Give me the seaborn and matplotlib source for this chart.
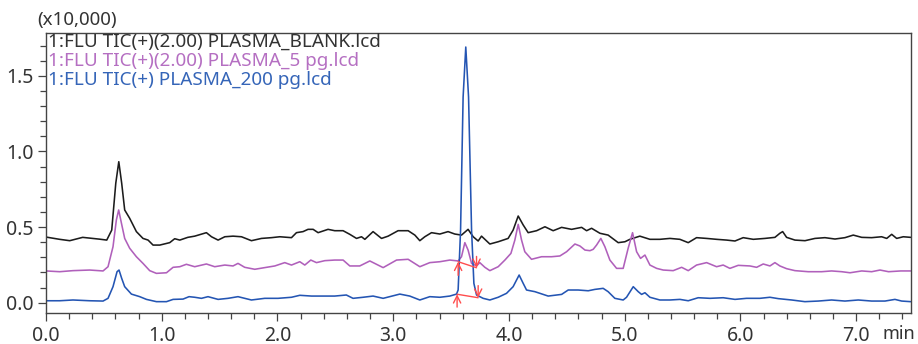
import matplotlib
matplotlib.use("Agg")
import matplotlib.pyplot as plt
import seaborn as sns
import numpy as np
from matplotlib.ticker import MultipleLocator

# ---------------- data (time in min, intensity in x10,000) ----------------
t_blank = [0.000, 0.118, 0.205, 0.317, 0.464, 0.525, 0.568, 0.603, 0.629, 0.654, 0.680, 0.723,
           0.781, 0.838, 0.882, 0.925, 0.983, 1.069, 1.112, 1.156, 1.225, 1.285, 1.386, 1.430,
           1.487, 1.545, 1.616, 1.689, 1.775, 1.862, 1.948, 2.020, 2.121, 2.164, 2.221, 2.264,
           2.308, 2.351, 2.437, 2.495, 2.567, 2.625, 2.683, 2.726, 2.755, 2.826, 2.899, 2.956,
           3.042, 3.129, 3.187, 3.230, 3.273, 3.331, 3.403, 3.474, 3.532, 3.590, 3.647, 3.691,
           3.734, 3.763, 3.835, 3.907, 3.993, 4.036, 4.080, 4.123, 4.166, 4.239, 4.311, 4.382,
           4.455, 4.541, 4.628, 4.671, 4.714, 4.786, 4.857, 4.944, 5.002, 5.045, 5.131, 5.218,
           5.304, 5.391, 5.477, 5.549, 5.621, 5.708, 5.794, 5.881, 5.953, 6.024, 6.111, 6.212,
           6.298, 6.341, 6.365, 6.399, 6.471, 6.558, 6.644, 6.730, 6.817, 6.903, 6.975, 7.048,
           7.134, 7.220, 7.264, 7.307, 7.350, 7.407, 7.471]
y_blank = [0.434, 0.419, 0.410, 0.432, 0.420, 0.414, 0.480, 0.790, 0.932, 0.790, 0.613, 0.558,
           0.470, 0.425, 0.414, 0.381, 0.381, 0.397, 0.423, 0.414, 0.432, 0.440, 0.463, 0.436,
           0.414, 0.436, 0.440, 0.436, 0.410, 0.425, 0.430, 0.436, 0.430, 0.463, 0.470, 0.485,
           0.485, 0.463, 0.485, 0.476, 0.476, 0.452, 0.425, 0.436, 0.419, 0.470, 0.425, 0.440,
           0.476, 0.476, 0.447, 0.410, 0.436, 0.463, 0.454, 0.470, 0.454, 0.447, 0.485, 0.436,
           0.408, 0.440, 0.388, 0.403, 0.425, 0.480, 0.573, 0.514, 0.463, 0.476, 0.502, 0.476,
           0.498, 0.485, 0.498, 0.476, 0.492, 0.459, 0.447, 0.397, 0.403, 0.419, 0.440, 0.419,
           0.419, 0.425, 0.419, 0.397, 0.430, 0.425, 0.419, 0.414, 0.408, 0.430, 0.419, 0.425,
           0.432, 0.459, 0.470, 0.432, 0.414, 0.410, 0.425, 0.430, 0.421, 0.430, 0.447, 0.432,
           0.430, 0.436, 0.425, 0.452, 0.425, 0.436, 0.432]

t_5pg = [0.000, 0.118, 0.233, 0.378, 0.493, 0.536, 0.579, 0.608, 0.628, 0.652, 0.680, 0.723,
         0.781, 0.838, 0.896, 0.954, 1.041, 1.098, 1.156, 1.213, 1.285, 1.386, 1.458, 1.545,
         1.616, 1.659, 1.717, 1.804, 1.890, 1.977, 2.063, 2.121, 2.193, 2.236, 2.288, 2.337,
         2.409, 2.495, 2.567, 2.625, 2.711, 2.798, 2.913, 3.029, 3.129, 3.230, 3.316, 3.403,
         3.489, 3.561, 3.590, 3.619, 3.647, 3.677, 3.720, 3.748, 3.792, 3.835, 3.907, 3.965,
         4.017, 4.051, 4.080, 4.109, 4.137, 4.195, 4.282, 4.368, 4.440, 4.498, 4.570, 4.613,
         4.657, 4.700, 4.728, 4.757, 4.794, 4.829, 4.872, 4.930, 4.987, 5.030, 5.068, 5.103,
         5.137, 5.175, 5.218, 5.276, 5.333, 5.419, 5.492, 5.549, 5.621, 5.708, 5.794, 5.851,
         5.909, 5.981, 6.082, 6.140, 6.197, 6.255, 6.298, 6.341, 6.399, 6.471, 6.586, 6.702,
         6.788, 6.875, 6.947, 7.048, 7.134, 7.206, 7.280, 7.385, 7.471]
y_5pg = [0.210, 0.205, 0.212, 0.216, 0.210, 0.238, 0.370, 0.547, 0.613, 0.525, 0.425, 0.360,
         0.304, 0.260, 0.212, 0.194, 0.198, 0.234, 0.238, 0.254, 0.238, 0.256, 0.238, 0.249,
         0.243, 0.260, 0.234, 0.221, 0.232, 0.243, 0.265, 0.249, 0.271, 0.249, 0.282, 0.265,
         0.278, 0.282, 0.282, 0.243, 0.243, 0.276, 0.232, 0.282, 0.287, 0.238, 0.265, 0.271,
         0.282, 0.276, 0.304, 0.397, 0.348, 0.260, 0.243, 0.265, 0.234, 0.212, 0.238, 0.282,
         0.326, 0.414, 0.518, 0.414, 0.337, 0.287, 0.304, 0.304, 0.309, 0.337, 0.388, 0.375,
         0.348, 0.344, 0.353, 0.381, 0.425, 0.370, 0.282, 0.227, 0.227, 0.360, 0.463, 0.337,
         0.293, 0.315, 0.249, 0.227, 0.216, 0.212, 0.234, 0.212, 0.249, 0.265, 0.238, 0.249,
         0.227, 0.247, 0.243, 0.234, 0.256, 0.243, 0.265, 0.243, 0.225, 0.212, 0.205, 0.205,
         0.210, 0.205, 0.198, 0.210, 0.205, 0.216, 0.205, 0.210, 0.210]

t_200pg = [0.000, 0.118, 0.233, 0.378, 0.493, 0.536, 0.579, 0.614, 0.631, 0.654, 0.680, 0.738,
           0.810, 0.868, 0.954, 1.041, 1.098, 1.184, 1.236, 1.285, 1.343, 1.400, 1.487, 1.573,
           1.659, 1.775, 1.890, 2.005, 2.121, 2.193, 2.294, 2.380, 2.495, 2.595, 2.653, 2.740,
           2.826, 2.913, 3.057, 3.143, 3.230, 3.316, 3.403, 3.489, 3.547, 3.561, 3.582, 3.604,
           3.627, 3.651, 3.677, 3.697, 3.720, 3.777, 3.835, 3.907, 3.979, 4.036, 4.088, 4.123,
           4.152, 4.224, 4.339, 4.455, 4.512, 4.598, 4.685, 4.742, 4.814, 4.857, 4.915, 4.987,
           5.016, 5.074, 5.117, 5.146, 5.175, 5.218, 5.304, 5.391, 5.477, 5.549, 5.635, 5.737,
           5.851, 5.953, 6.053, 6.168, 6.255, 6.327, 6.443, 6.557, 6.672, 6.788, 6.903, 7.018,
           7.134, 7.249, 7.335, 7.393, 7.471]
y_200pg = [0.013, 0.013, 0.018, 0.013, 0.011, 0.029, 0.106, 0.205, 0.216, 0.161, 0.106, 0.057,
           0.040, 0.022, 0.007, 0.007, 0.022, 0.024, 0.040, 0.036, 0.029, 0.040, 0.022, 0.029,
           0.040, 0.018, 0.029, 0.029, 0.036, 0.049, 0.044, 0.044, 0.044, 0.051, 0.029, 0.036,
           0.044, 0.029, 0.057, 0.044, 0.018, 0.040, 0.036, 0.044, 0.057, 0.084, 0.480, 1.360,
           1.690, 1.360, 0.480, 0.128, 0.051, 0.029, 0.018, 0.036, 0.062, 0.106, 0.183, 0.128,
           0.084, 0.073, 0.044, 0.055, 0.084, 0.084, 0.079, 0.088, 0.095, 0.073, 0.029, 0.018,
           0.036, 0.106, 0.073, 0.055, 0.066, 0.036, 0.018, 0.018, 0.022, 0.013, 0.033, 0.029,
           0.033, 0.022, 0.029, 0.029, 0.036, 0.027, 0.018, 0.007, 0.011, 0.018, 0.011, 0.018,
           0.011, 0.011, 0.022, 0.011, 0.007]

labels = ["1:FLU TIC(+)(2.00) PLASMA_BLANK.lcd",
          "1:FLU TIC(+)(2.00) PLASMA_5 pg.lcd",
          "1:FLU TIC(+) PLASMA_200 pg.lcd"]
line_colors = ["#1c1c1c", "#b060bb", "#2455b3"]
text_colors = ["#333333", "#b56fc2", "#3565b8"]

# peak integration marks (start/end of the 3.6 min peak): time, baseline level
base_5pg = ([3.561, 3.720], [0.271, 0.231])
base_200pg = ([3.552, 3.734], [0.056, 0.033])

x_ticks = [0.0, 1.0, 2.0, 3.0, 4.0, 5.0, 6.0, 7.0]
y_ticks = [0.0, 0.5, 1.0, 1.5]

# ---------------- figure ----------------
sns.set_style("ticks")
plt.rcParams["font.family"] = ["Noto Sans", "DejaVu Sans"]

fig = plt.figure(figsize=(9.18, 3.44), dpi=100)
ax = fig.add_axes([0.0501, 0.0901, 0.9423, 0.8154])

for t, y, c in zip([t_blank, t_5pg, t_200pg], [y_blank, y_5pg, y_200pg], line_colors):
    sns.lineplot(x=t, y=y, ax=ax, color=c, linewidth=1.15, estimator=None, sort=False)

red = "#ff4d4d"
for (bt, bv), up_len, dn_len in [(base_5pg, 0.09, 0.075), (base_200pg, 0.085, 0.08)]:
    ax.plot(bt, bv, color=red, lw=1.0)
    ax.annotate("", xy=(bt[0], bv[0]), xytext=(bt[0], bv[0] - up_len),
                arrowprops=dict(arrowstyle="->", color=red, lw=1.0,
                                shrinkA=0, shrinkB=0, mutation_scale=13))
    ax.annotate("", xy=(bt[1], bv[1]), xytext=(bt[1], bv[1] + dn_len),
                arrowprops=dict(arrowstyle="->", color=red, lw=1.0,
                                shrinkA=0, shrinkB=0, mutation_scale=13))

ax.set_xlim(0, 7.474)
ax.set_ylim(-0.068, 1.786)
ax.set_xticks(x_ticks)
ax.set_xticklabels([f"{v:.1f}" for v in x_ticks])
ax.set_yticks(y_ticks)
ax.set_yticklabels([f"{v:.1f}" for v in y_ticks])
ax.xaxis.set_minor_locator(MultipleLocator(0.2))
ax.yaxis.set_minor_locator(MultipleLocator(0.1))
ax.set_xlabel("")
ax.set_ylabel("")

tick_col = "#444444"
ax.tick_params(which="major", direction="out", length=6, width=0.9, color=tick_col,
               labelsize=14, labelcolor="#333333")
ax.tick_params(which="minor", direction="out", length=4.5, width=0.9, color=tick_col)
ax.tick_params(axis="x", pad=3)
ax.tick_params(axis="y", pad=3)
for s in ax.spines.values():
    s.set_visible(True)
    s.set_color("#444444")
    s.set_linewidth(1.0)

for i, (lab, col) in enumerate(zip(labels, text_colors)):
    ax.text(0.002, 0.966 - i * 0.0675, lab, transform=ax.transAxes, color=col,
            fontsize=13.6, va="center", ha="left")

fig.text(37 / 918, 1 - 20 / 344, "(x10,000)", fontsize=13.5, color="#333333",
         va="center", ha="left")
fig.text(883 / 918, 1 - 334 / 344, "min", fontsize=13, color="#333333",
         va="center", ha="left")

fig.savefig("out.png", dpi=100)
